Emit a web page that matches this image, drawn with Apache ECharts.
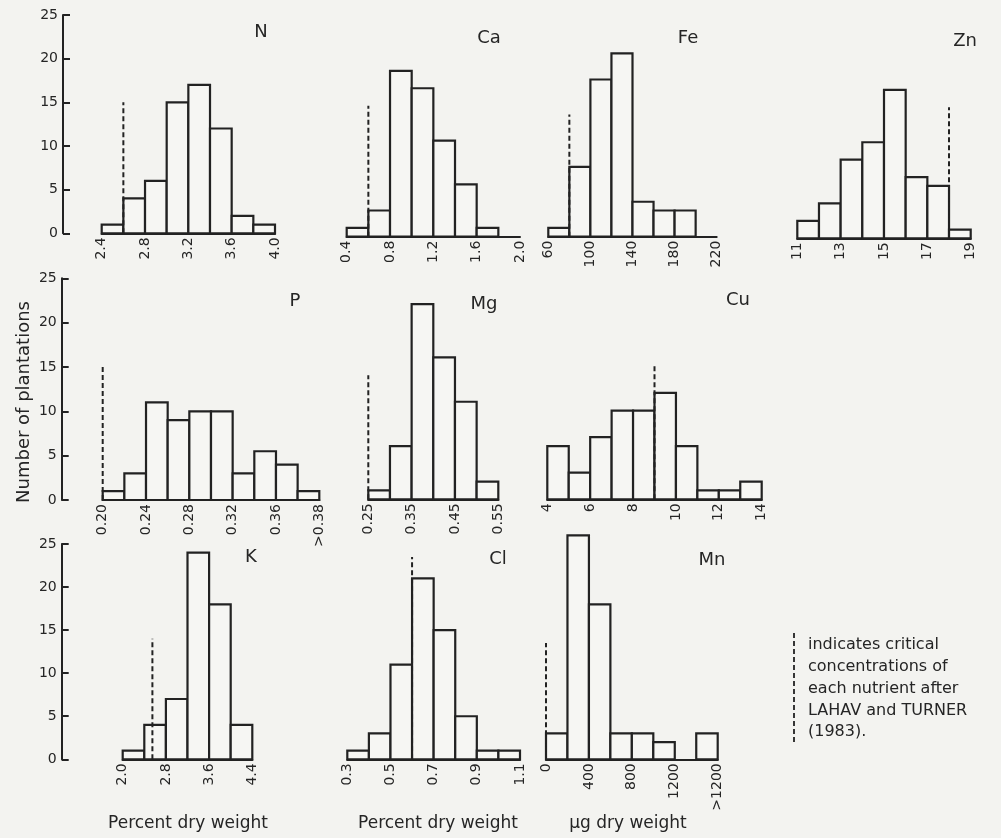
<!DOCTYPE html>
<html>
<head>
<meta charset="utf-8">
<script src="https://cdn.jsdelivr.net/npm/echarts@6/dist/echarts.min.js"></script>
<style>
  html, body { margin: 0; padding: 0; background: #f3f3f0; }
  #chart { width: 1001px; height: 838px; }
</style>
</head>
<body>
<div id="chart"></div>
<script>
// Leaf nutrient surveys: number of plantations per concentration class.
// Bin edges, counts, critical concentration (x, height of the dashed marker), tick labels.
const yTicks = ['0', '5', '10', '15', '20', '25'];

const nEdges = [2.4, 2.6, 2.8, 3.0, 3.2, 3.4, 3.6, 3.8, 4.0];
const nCounts = [1, 4, 6, 15, 17, 12, 2, 1];
const nCritical = [2.6, 15];
const nTicks = ['2.4', '2.8', '3.2', '3.6', '4.0'];

const caEdges = [0.4, 0.6, 0.8, 1.0, 1.2, 1.4, 1.6, 1.8, 2.0];
const caCounts = [1, 3, 19, 17, 11, 6, 1, 0];
const caCritical = [0.6, 15];
const caTicks = ['0.4', '0.8', '1.2', '1.6', '2.0'];

const feEdges = [60, 80, 100, 120, 140, 160, 180, 200, 220];
const feCounts = [1, 8, 18, 21, 4, 3, 3, 0];
const feCritical = [80, 14];
const feTicks = ['60', '100', '140', '180', '220'];

const znEdges = [11, 12, 13, 14, 15, 16, 17, 18, 19];
const znCounts = [2, 4, 9, 11, 17, 7, 6, 1];
const znCritical = [18, 15];
const znTicks = ['11', '13', '15', '17', '19'];

const pEdges = [0.20, 0.22, 0.24, 0.26, 0.28, 0.30, 0.32, 0.34, 0.36, 0.38, 0.40];
const pCounts = [1, 3, 11, 9, 10, 10, 3, 5.5, 4, 1];
const pCritical = [0.20, 15];
const pTicks = ['0.20', '0.24', '0.28', '0.32', '0.36', '>0.38'];

const mgEdges = [0.25, 0.30, 0.35, 0.40, 0.45, 0.50, 0.55];
const mgCounts = [1, 6, 22, 16, 11, 2];
const mgCritical = [0.25, 14];
const mgTicks = ['0.25', '0.35', '0.45', '0.55'];

const cuEdges = [4, 5, 6, 7, 8, 9, 10, 11, 12, 13, 14];
const cuCounts = [6, 3, 7, 10, 10, 12, 6, 1, 1, 2];
const cuCritical = [9, 15];
const cuTicks = ['4', '6', '8', '10', '12', '14'];

const kEdges = [2.0, 2.4, 2.8, 3.2, 3.6, 4.0, 4.4];
const kCounts = [1, 4, 7, 24, 18, 4];
const kCritical = [2.55, 14];
const kTicks = ['2.0', '2.8', '3.6', '4.4'];

const clEdges = [0.3, 0.4, 0.5, 0.6, 0.7, 0.8, 0.9, 1.0, 1.1];
const clCounts = [1, 3, 11, 21, 15, 5, 1, 1];
const clCritical = [0.6, 23.5];
const clTicks = ['0.3', '0.5', '0.7', '0.9', '1.1'];

const mnEdges = [0, 200, 400, 600, 800, 1000, 1200, 1400, 1600];
const mnCounts = [3, 26, 18, 3, 3, 2, 0, 3];
const mnCritical = [0, 13.5];
const mnTicks = ['0', '400', '800', '1200', '>1200'];

const INK = '#222222';
const TEXT = '#252525';
const FILL = '#f6f6f3';
const FONT = 'DejaVu Sans';

// Panel placement on the page (pixels): x of first/last class edge, baseline y, plot height.
const panels = [
  { name: 'N',  edges: nEdges,  counts: nCounts,  crit: nCritical,  ticks: nTicks,  step: 0.4, x0: 101.7, x1: 275,   base: 233.3, h: 218.3, yAxisX: 63,   title: [261, 32] },
  { name: 'Ca', edges: caEdges, counts: caCounts, crit: caCritical, ticks: caTicks, step: 0.4, x0: 346.7, x1: 520,   base: 236.7, h: 218.3, title: [489, 38] },
  { name: 'Fe', edges: feEdges, counts: feCounts, crit: feCritical, ticks: feTicks, step: 40,  x0: 548.3, x1: 716.7, base: 236.7, h: 218.3, title: [688, 38] },
  { name: 'Zn', edges: znEdges, counts: znCounts, crit: znCritical, ticks: znTicks, step: 2,   x0: 797.3, x1: 970.7, base: 238.3, h: 218.3, title: [965, 41] },
  { name: 'P',  edges: pEdges,  counts: pCounts,  crit: pCritical,  ticks: pTicks,  step: 0.04, x0: 102.7, x1: 319.3, base: 500,  h: 221.7, yAxisX: 61.7, title: [295, 301] },
  { name: 'Mg', edges: mgEdges, counts: mgCounts, crit: mgCritical, ticks: mgTicks, step: 0.1, x0: 368.3, x1: 498.3, base: 499.3, h: 221.7, title: [484, 304] },
  { name: 'Cu', edges: cuEdges, counts: cuCounts, crit: cuCritical, ticks: cuTicks, step: 2,   x0: 547.3, x1: 761.7, base: 499.3, h: 221.7, title: [738, 300] },
  { name: 'K',  edges: kEdges,  counts: kCounts,  crit: kCritical,  ticks: kTicks,  step: 0.8, x0: 122.7, x1: 252.3, base: 759.3, h: 215.3, yAxisX: 61.7, title: [251, 557] },
  { name: 'Cl', edges: clEdges, counts: clCounts, crit: clCritical, ticks: clTicks, step: 0.2, x0: 347.3, x1: 520,   base: 759.3, h: 215.3, title: [498, 559] },
  { name: 'Mn', edges: mnEdges, counts: mnCounts, crit: mnCritical, ticks: mnTicks, step: 400, x0: 546,   x1: 717.7, base: 759.3, h: 215.3, title: [712, 560] }
];

const grid = [], xAxis = [], yAxis = [], series = [], graphic = [];

panels.forEach((p, i) => {
  grid.push({ left: p.x0, top: p.base - p.h, width: p.x1 - p.x0, height: p.h, containLabel: false });

  const ticks = p.ticks;
  xAxis.push({
    gridIndex: i, type: 'value',
    min: p.edges[0], max: p.edges[p.edges.length - 1], interval: p.step,
    splitLine: { show: false },
    axisTick: { show: false },
    axisLine: { show: true, lineStyle: { color: INK, width: 2 } },
    axisLabel: {
      rotate: 90, margin: 4, color: TEXT, fontFamily: FONT, fontSize: 14,
      formatter: (v, idx) => ticks[idx] !== undefined ? ticks[idx] : ''
    }
  });

  const hasAxis = p.yAxisX !== undefined;
  yAxis.push({
    gridIndex: i, type: 'value', min: 0, max: 25, interval: 5,
    show: hasAxis,
    position: 'left',
    offset: hasAxis ? p.x0 - p.yAxisX : 0,
    splitLine: { show: false },
    axisLine: { show: true, lineStyle: { color: INK, width: 2 } },
    axisTick: { show: true, inside: true, length: 7, lineStyle: { color: INK, width: 2 } },
    axisLabel: {
      margin: 5, color: TEXT, fontFamily: FONT, fontSize: 14,
      formatter: (v, idx) => yTicks[idx]
    }
  });

  const bins = p.counts.map((c, k) => [p.edges[k], p.edges[k + 1], c]);
  series.push({
    type: 'custom', xAxisIndex: i, yAxisIndex: i, clip: false,
    data: bins,
    encode: { x: [0, 1], y: 2 },
    renderItem: (params, api) => {
      const v = api.value(2);
      if (!v) return null;
      const a = api.coord([api.value(0), 0]);
      const b = api.coord([api.value(1), v]);
      return {
        type: 'rect',
        shape: { x: a[0], y: b[1], width: b[0] - a[0], height: a[1] - b[1] },
        style: { fill: FILL, stroke: INK, lineWidth: 2.2 }
      };
    },
    z: 2
  });

  series.push({
    type: 'line', xAxisIndex: i, yAxisIndex: i, clip: false,
    data: [[p.crit[0], 0], [p.crit[0], p.crit[1]]],
    symbol: 'none', silent: true,
    lineStyle: { color: INK, width: 2, type: [5, 3] },
    z: 3
  });

  graphic.push({
    type: 'text', x: p.title[0], y: p.title[1],
    style: { text: p.name, fill: TEXT, font: '18px "DejaVu Sans"', align: 'center', verticalAlign: 'middle' }
  });
});

// Shared y-axis title
graphic.push({
  type: 'text', x: 24, y: 402, rotation: Math.PI / 2,
  style: { text: 'Number of plantations', fill: TEXT, font: '18px "DejaVu Sans"', align: 'center', verticalAlign: 'middle' }
});

// Unit captions under the bottom row
[['Percent dry weight', 188], ['Percent dry weight', 438], ['\u00b5g dry weight', 628]].forEach(([t, x]) => {
  graphic.push({
    type: 'text', x: x, y: 824,
    style: { text: t, fill: TEXT, font: '17px "DejaVu Sans"', align: 'center', verticalAlign: 'middle' }
  });
});

// Key for the dashed marker
graphic.push({
  type: 'line', shape: { x1: 794, y1: 633, x2: 794, y2: 745 },
  style: { stroke: INK, lineWidth: 1.8, lineDash: [5, 3] }
});
['indicates critical', 'concentrations of', 'each nutrient after', 'LAHAV and TURNER', '(1983).'].forEach((t, k) => {
  graphic.push({
    type: 'text', x: 808, y: 645 + k * 21.8,
    style: { text: t, fill: TEXT, font: '16px "DejaVu Sans"', align: 'left', verticalAlign: 'middle' }
  });
});

const chart = echarts.init(document.getElementById('chart'), null, { renderer: 'canvas' });
chart.setOption({
  backgroundColor: '#f3f3f0',
  animation: false,
  grid, xAxis, yAxis, series, graphic
});
</script>
</body>
</html>
